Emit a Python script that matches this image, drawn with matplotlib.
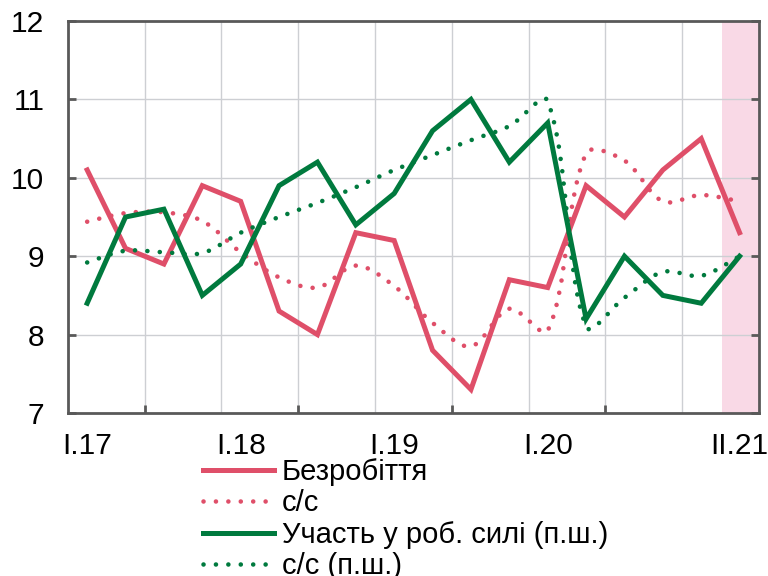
import numpy as np
import matplotlib
matplotlib.use("Agg")
import matplotlib.pyplot as plt
from matplotlib.path import Path
from matplotlib.patches import PathPatch
from matplotlib.lines import Line2D

plt.rcParams['font.family'] = ['Liberation Sans', 'DejaVu Sans']

# quarters I.17 .. II.21
quarters = ["I.17", "II.17", "III.17", "IV.17", "I.18", "II.18", "III.18", "IV.18",
            "I.19", "II.19", "III.19", "IV.19", "I.20", "II.20", "III.20", "IV.20",
            "I.21", "II.21"]
shown_labels = ["I.17", "I.18", "I.19", "I.20", "II.21"]

unemployment = [10.1, 9.1, 8.9, 9.9, 9.7, 8.3, 8.0, 9.3, 9.2, 7.8, 7.3, 8.7,
                8.6, 9.9, 9.5, 10.1, 10.5, 9.3]
unemployment_sa = [9.44, 9.55, 9.56, 9.45, 9.05, 8.73, 8.6, 8.88, 8.62, 8.15, 7.85, 8.33,
                   8.05, 10.31, 10.22, 9.7, 9.78, 9.7]
participation = [8.4, 9.5, 9.6, 8.5, 8.9, 9.9, 10.2, 9.4, 9.8, 10.6, 11.0, 10.2,
                 10.7, 8.2, 9.0, 8.5, 8.4, 9.0]
participation_sa = [8.92, 9.07, 9.05, 9.04, 9.3, 9.5, 9.68, 9.88, 10.1, 10.29, 10.48, 10.66,
                    10.98, 8.1, 8.47, 8.8, 8.75, 9.0]

RED = '#DF4F69'
GREEN = '#007A3E'
SPINE = '#595959'
DOTS = (0, (0.01, 2.7))


def smooth_path(x, y, yscale=2.04):
    """Smoothed curve through the points: cubic bezier segments whose
    tangents are split by neighbouring segment lengths (less overshoot)"""
    pts = np.column_stack([x, y]).astype(float)
    n = len(pts)
    seg = np.diff(pts, axis=0)
    lens = np.hypot(seg[:, 0], seg[:, 1] * yscale)
    verts = [pts[0]]
    codes = [Path.MOVETO]
    for i in range(n - 1):
        p1, p2 = pts[i], pts[i + 1]
        if i == 0:
            c1 = p1 + (p2 - p1) / 6
        else:
            t = pts[i + 1] - pts[i - 1]
            c1 = p1 + t * lens[i] / (lens[i - 1] + lens[i]) / 3
        if i == n - 2:
            c2 = p2 - (p2 - p1) / 6
        else:
            t = pts[i + 2] - pts[i]
            c2 = p2 - t * lens[i] / (lens[i] + lens[i + 1]) / 3
        verts += [c1, c2, p2]
        codes += [Path.CURVE4] * 3
    return Path(verts, codes)


fig = plt.figure(figsize=(7.68, 5.76), dpi=100)
ax = fig.add_axes([0.0885, 0.283, 0.8995, 0.6805])

x = np.arange(len(quarters))

ax.axvspan(16.55, 17.5, color='#F9D9E6', zorder=0, lw=0)
for gx in np.arange(1.5, 16, 2):
    ax.axvline(gx, color='#CDCFD3', lw=1, zorder=1)
for gy in [8, 9, 10, 11]:
    ax.axhline(gy, color='#CDCFD3', lw=1, zorder=1)

ax.plot(x, unemployment, color=RED, lw=3.6, zorder=3, solid_joinstyle='miter')
ax.add_patch(PathPatch(smooth_path(x, unemployment_sa), fill=False, edgecolor=RED, lw=3.3,
                       linestyle=DOTS, capstyle='round', zorder=3))
ax.plot(x, participation, color=GREEN, lw=3.6, zorder=4, solid_joinstyle='miter')
ax.add_patch(PathPatch(smooth_path(x, participation_sa), fill=False, edgecolor=GREEN, lw=3.3,
                       linestyle=DOTS, capstyle='round', zorder=4))

ax.set_xlim(-0.5, 17.5)
ax.set_ylim(7, 12)

ax.set_xticks([quarters.index(q) for q in shown_labels])
ax.set_xticklabels(shown_labels)
ax.set_xticks([1.5, 5.5, 9.5, 13.5], minor=True)
ax.tick_params(axis='x', which='major', length=0, pad=14, labelsize=21.5)
ax.tick_params(axis='x', which='minor', direction='in', length=6, width=2, color=SPINE)

ax.set_yticks([7, 8, 9, 10, 11, 12])
ax.tick_params(axis='y', which='major', direction='in', length=6, width=2, color=SPINE,
               labelsize=21.5, pad=17, right=True)
for sp in ax.spines.values():
    sp.set_color(SPINE)
    sp.set_linewidth(2)

handles = [
    Line2D([], [], color=RED, lw=3.6),
    Line2D([], [], color=RED, lw=3.3, linestyle=DOTS, dash_capstyle='round'),
    Line2D([], [], color=GREEN, lw=3.6),
    Line2D([], [], color=GREEN, lw=3.3, linestyle=DOTS, dash_capstyle='round'),
]
labels = ["Безробіття", "с/с", "Участь у роб. силі (п.ш.)", "с/с (п.ш.)"]
fig.legend(handles, labels, loc='upper left', bbox_to_anchor=(0.264, 0.205),
           frameon=False, fontsize=21, handlelength=2.45, handletextpad=0.25,
           labelspacing=0.12, borderaxespad=0, borderpad=0)

fig.savefig('out.png', dpi=100)
